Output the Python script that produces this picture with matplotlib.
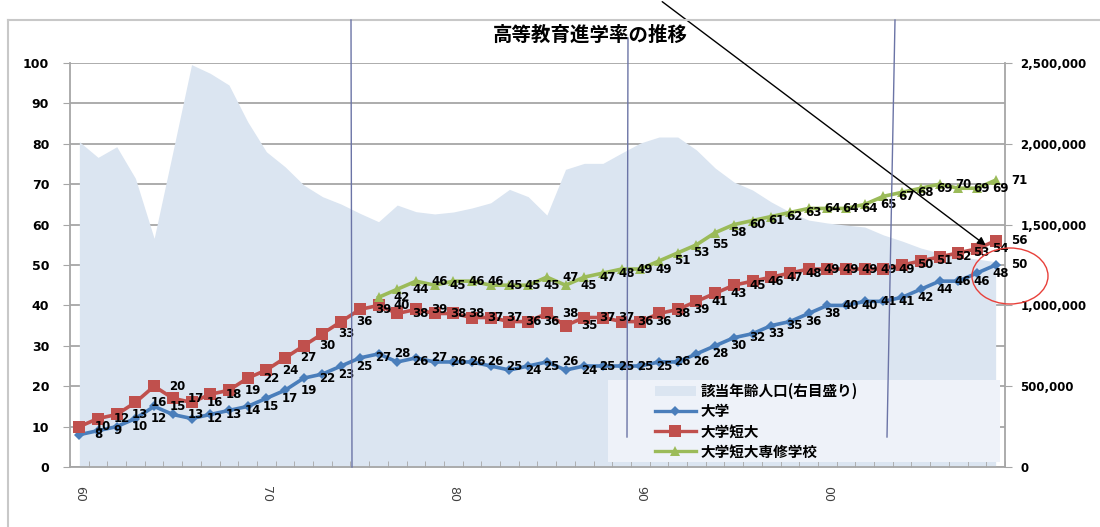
import matplotlib
matplotlib.use("Agg")
import matplotlib.pyplot as plt
from matplotlib.lines import Line2D
from matplotlib.patches import Patch, Ellipse, FancyArrowPatch, Rectangle
import numpy as np

plt.rcParams['font.family'] = ['DejaVu Sans', 'Noto Sans CJK JP']

years = list(range(1960, 2010))
tick_years = [1960, 1970, 1980, 1990, 2000]
tick_labels = ["60", "70", "80", "90", "00"]

# 18-year-old population (right axis)
pop_18 = [2013000, 1916000, 1982000, 1786000, 1415000, 1950000, 2490000, 2436000, 2364000, 2137000,
          1951000, 1858000, 1745000, 1673000, 1627000, 1570000, 1518000, 1621000, 1580000, 1566000,
          1578000, 1603000, 1635000, 1718000, 1673000, 1559000, 1842000, 1879000, 1879000, 1943000,
          2005000, 2042000, 2042000, 1962000, 1850000, 1764000, 1714000, 1640000, 1578000, 1528000,
          1510000, 1497000, 1485000, 1436000, 1398000, 1355000, 1324000, 1300000, 1287000, 1270000]

univ = [8, 9, 10, 12, 15, 13, 12, 13, 14, 15,
        17, 19, 22, 23, 25, 27, 28, 26, 27, 26,
        26, 26, 25, 24, 25, 26, 24, 25, 25, 25,
        25, 26, 26, 28, 30, 32, 33, 35, 36, 38,
        40, 40, 41, 41, 42, 44, 46, 46, 48, 50]

univ_junior = [10, 12, 13, 16, 20, 17, 16, 18, 19, 22,
               24, 27, 30, 33, 36, 39, 40, 38, 39, 38,
               38, 37, 37, 36, 36, 38, 35, 37, 37, 36,
               36, 38, 39, 41, 43, 45, 46, 47, 48, 49,
               49, 49, 49, 49, 50, 51, 52, 53, 54, 56]

voc_years = list(range(1976, 2010))
univ_junior_voc = [42, 44, 46, 45, 46, 46, 45, 45, 45, 47,
                   45, 47, 48, 49, 49, 51, 53, 55, 58, 60,
                   61, 62, 63, 64, 64, 64, 65, 67, 68, 69,
                   70, 69, 69, 71]

W, H = 1100, 527
fig = plt.figure(figsize=(W / 100, H / 100), dpi=100)
fig.patch.set_facecolor("white")

ax = fig.add_axes([70 / W, 1 - 467 / H, 935 / W, 404 / H])
ax_pop = ax.twinx()
ax_line = ax.twinx()

idx = np.arange(len(years))
voc_idx = np.array([years.index(y) for y in voc_years])

grid_col = "#a6a6a6"

# bottom layer: gridlines and left scale
ax.set_xlim(-0.5, len(years) - 0.5)
ax.set_ylim(0, 100)
ax.set_yticks(range(0, 101, 10))
ax.yaxis.grid(True, color=grid_col, lw=1.3)
ax.set_axisbelow(True)
for s in ["top", "right", "bottom"]:
    ax.spines[s].set_visible(False)
ax.spines["left"].set_color(grid_col)
ax.spines["left"].set_linewidth(1.3)
ax.tick_params(axis="y", length=5, color=grid_col, labelsize=9, pad=10)
for t in ax.get_yticklabels():
    t.set_fontweight("bold")
ax.tick_params(axis="x", which="both", length=0, labelbottom=False)

# population area
ax_pop.fill_between(idx, pop_18, color="#dbe5f1", lw=0)
ax_pop.set_ylim(0, 2500000)
ax_pop.set_yticks(range(0, 2500001, 500000))
ax_pop.set_yticklabels(["{:,}".format(v) for v in range(0, 2500001, 500000)])
for s in ["top", "left", "bottom"]:
    ax_pop.spines[s].set_visible(False)
ax_pop.spines["right"].set_color(grid_col)
ax_pop.spines["right"].set_linewidth(1.3)
ax_pop.tick_params(axis="y", length=5, color=grid_col, labelsize=8.5, pad=6)
for t in ax_pop.get_yticklabels():
    t.set_fontweight("bold")

# rate lines
ax_line.set_ylim(0, 100)
ax_line.yaxis.set_visible(False)
for s in ["top", "left", "right"]:
    ax_line.spines[s].set_visible(False)
ax_line.spines["bottom"].set_color(grid_col)
ax_line.spines["bottom"].set_linewidth(1.3)
ax_line.xaxis.set_visible(True)
ax_line.set_xticks([years.index(y) for y in tick_years])
ax_line.set_xticklabels(tick_labels, rotation=270)
ax_line.set_xticks(np.arange(-0.5, len(years), 1), minor=True)
ax_line.tick_params(axis="x", which="major", length=0, pad=14, labelsize=9, labelcolor="#404040")
ax_line.tick_params(axis="x", which="minor", direction="in", length=4, color=grid_col)

series = [
    (idx, univ, "#4a7ebb", "D", 5.5, "大学"),
    (idx, univ_junior, "#c0504d", "s", 8.5, "大学短大"),
    (voc_idx, univ_junior_voc, "#9bbb59", "^", 7.5, "大学短大専修学校"),
]
handles = [Patch(facecolor="#dbe5f1", edgecolor="none")]
labels = ["該当年齢人口(右目盛り)"]
for x, y, col, mk, ms, name in series:
    ax_line.plot(x, y, color=col, lw=2.6, marker=mk, markersize=ms, markeredgewidth=0)
    for xi, yi in zip(x, y):
        ax_line.annotate(str(yi), (xi, yi), xytext=(11, 0), textcoords="offset points",
                         ha="left", va="center", fontsize=8.5, fontweight="bold",
                         color="black", annotation_clip=False)
    handles.append(Line2D([], [], color=col, lw=2.4, marker=mk, markersize=ms, markeredgewidth=0))
    labels.append(name)

# legend box
ax_line.add_patch(Rectangle(((608 - 70) / 935, (467 - 462) / 404), (1000 - 608) / 935, (462 - 380) / 404,
                            transform=ax_line.transAxes, facecolor="#eef2f9", edgecolor="none", zorder=5))
leg = ax_line.legend(handles, labels, loc="upper left",
                     bbox_to_anchor=((652 - 70) / 935, (467 - 380) / 404),
                     frameon=False, handlelength=2.8, handletextpad=0.3, labelspacing=0.28,
                     borderaxespad=0, borderpad=0.2,
                     prop={"family": "Noto Sans CJK JP", "weight": "bold", "size": 10.5})
leg.set_zorder(6)

fig.text(590 / W, 1 - 35 / H, "高等教育進学率の推移", ha="center", va="center",
         fontsize=14, fontweight="bold", family="Noto Sans CJK JP")

# outer frame
fig.add_artist(Line2D([8 / W, 8 / W], [1 - 20 / H, 0], color="#c8c8c8", lw=1.5, transform=fig.transFigure))
fig.add_artist(Line2D([8 / W, 1], [1 - 20 / H, 1 - 20 / H], color="#c8c8c8", lw=1.5, transform=fig.transFigure))

# divider lines
for (x0, y0), (x1, y1) in [((351, 20), (352, 467)), ((628, 38), (627, 437)), ((895, 20), (887, 437))]:
    fig.add_artist(Line2D([x0 / W, x1 / W], [1 - y0 / H, 1 - y1 / H], color="#6b74a6", lw=1.0,
                          transform=fig.transFigure))

# pointer and ring
fig.add_artist(FancyArrowPatch((660 / W, 1 - 0 / H), (988 / W, 1 - 247 / H), transform=fig.transFigure,
                               arrowstyle="-|>", mutation_scale=12, color="black", lw=1.0))
fig.add_artist(Ellipse((1010 / W, 1 - 276 / H), 76 / W, 56 / H, transform=fig.transFigure,
                       fill=False, edgecolor="#e8403a", lw=1.0))

fig.savefig("out.png", dpi=100)
